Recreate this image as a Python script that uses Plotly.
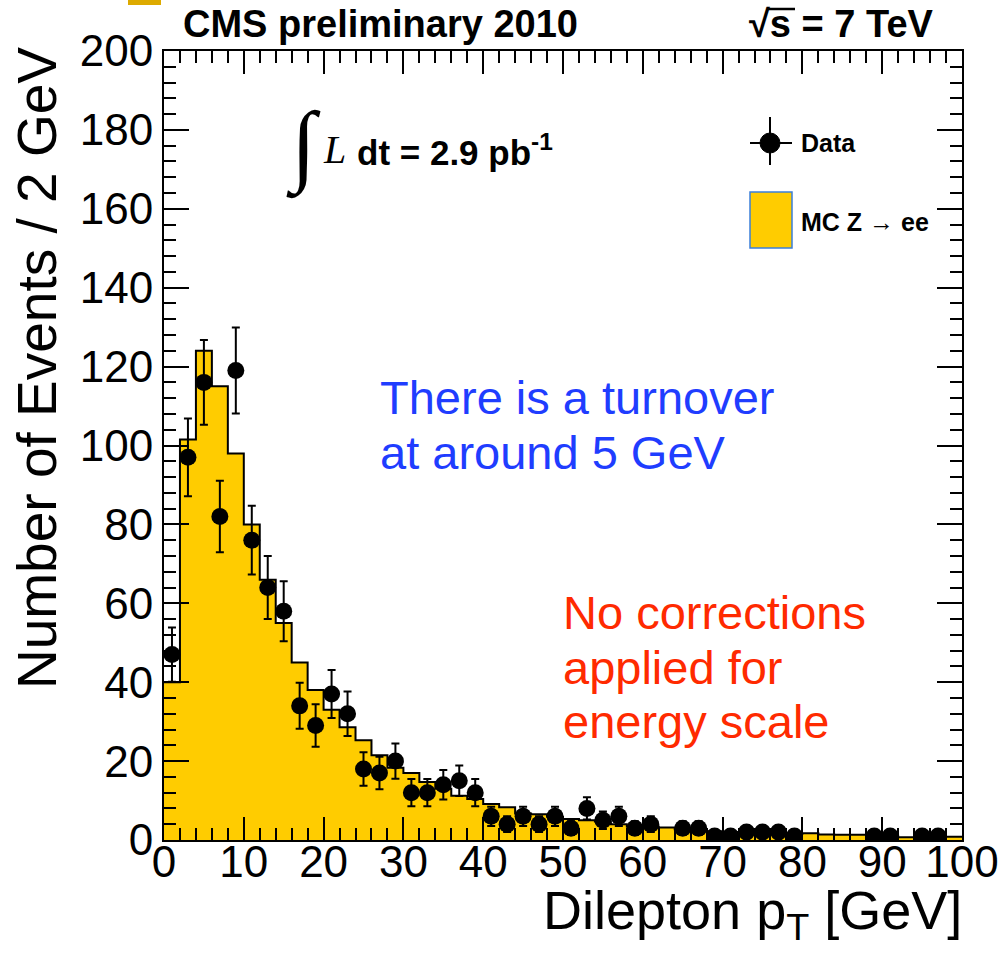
import numpy as np
import plotly.graph_objects as go

# ---- binning: dilepton pT in 2 GeV bins from 0 to 100 GeV ----
bin_edges = list(range(0, 102, 2))

# MC Z -> ee expectation per bin
mc_counts = [40, 101.5, 124, 115, 98, 80, 66, 55, 45, 38,
             33, 28.6, 25.3, 21.5, 18.3, 17, 14.7, 13, 11.2, 10.4,
             9.1, 8.3, 6.7, 6.5, 5.9, 5.3, 5.0, 4.7, 4.0, 3.4,
             3.4, 3.2, 2.7, 2.5, 2.2, 2.0, 1.9, 1.8, 1.7, 1.6,
             1.7, 1.4, 1.3, 1.3, 1.2, 1.1, 0.7, 0.7, 0.6, 0.8]

# observed events per bin
data_counts = [47, 97, 116, 82, 119, 76, 64, 58, 34, 29,
               37, 32, 18, 17, 20, 12, 12, 14, 15, 12,
               6, 4, 6, 4, 6, 3, 8, 5, 6, 3,
               4, 0, 3, 3, 1, 1, 2, 2, 2, 1,
               0, 0, 0, 0, 1, 1, 0, 1, 1, 0]

x_tick_vals = [0, 10, 20, 30, 40, 50, 60, 70, 80, 90, 100]
y_tick_vals = [0, 20, 40, 60, 80, 100, 120, 140, 160, 180, 200]

# ---- page geometry (pixels) ----
W, H = 1002, 961
ML, MR, MT, MB = 164, 40, 51, 121
PW, PH = W - ML - MR, H - MT - MB


def px(xp):
    return (xp - ML) / PW


def py(yp):
    return (H - MB - yp) / PH


FONT = "Liberation Sans"
YELLOW = "#FFCC00"

edges = np.array(bin_edges, dtype=float)
centers = 0.5 * (edges[:-1] + edges[1:])
mc = np.array(mc_counts, dtype=float)
obs = np.array(data_counts, dtype=float)
nz = obs > 0

fig = go.Figure()

# MC histogram drawn as a filled step outline
fig.add_trace(go.Scatter(
    x=edges, y=np.append(mc, mc[-1]),
    mode="lines",
    line=dict(shape="hv", color="black", width=2),
    fill="tozeroy", fillcolor=YELLOW,
    hoverinfo="skip", showlegend=False,
))

# data points with Poisson errors
fig.add_trace(go.Scatter(
    x=centers[nz], y=obs[nz],
    mode="markers",
    marker=dict(color="black", size=17),
    error_y=dict(type="data", array=np.sqrt(obs[nz]), color="black",
                 thickness=2, width=4),
    showlegend=False,
))

axis_common = dict(
    showline=True, linecolor="black", linewidth=2, mirror="allticks",
    ticks="inside", tickcolor="black", tickwidth=2,
    showgrid=False, zeroline=False, automargin=False,
    tickfont=dict(family=FONT, size=44, color="black"),
)

fig.update_xaxes(
    range=[0, 100], tickvals=x_tick_vals, ticklen=23,
    ticklabelstandoff=-18,
    minor=dict(ticks="inside", dtick=2, ticklen=12, tickwidth=2,
               tickcolor="black", showgrid=False),
    **axis_common,
)
fig.update_yaxes(
    range=[0, 200], tickvals=y_tick_vals, ticklen=25,
    minor=dict(ticks="inside", dtick=4, ticklen=12, tickwidth=2,
               tickcolor="black", showgrid=False),
    **axis_common,
)


def note(text, x, y, size, xanchor="center", yanchor="middle", color="black",
         family=FONT, angle=0, align="left"):
    return dict(text=text, x=px(x), y=py(y), xref="paper", yref="paper",
                xanchor=xanchor, yanchor=yanchor, showarrow=False,
                textangle=angle, align=align,
                font=dict(family=family, size=size, color=color))


BLUE = "#1f3dff"
RED = "#ff2a00"

annotations = [
    note("Number of Events / 2 GeV", 37, 368, 55, angle=-90),
    note("Dilepton p<sub>T</sub> [GeV]", 964, 878, 54, xanchor="right", yanchor="top"),
    note("<b>CMS preliminary 2010</b>", 380, 24, 38),
    note("<b>√s = 7 TeV</b>", 841, 24, 38),
    note("∫", 303, 146, 90, family="Liberation Serif"),
    note("<i>L</i>", 334, 150, 40, family="Liberation Serif"),
    note("<b>dt = 2.9 pb<sup>-1</sup></b>", 355, 150, 35, xanchor="left"),
    note("<b>Data</b>", 799, 143, 25, xanchor="left"),
    note("<b>MC Z → ee</b>", 799, 222, 25, xanchor="left"),
    note("There is a turnover", 378, 397, 47, xanchor="left", color=BLUE),
    note("at around 5 GeV", 378, 452, 47, xanchor="left", color=BLUE),
    note("No corrections", 561, 612, 47, xanchor="left", color=RED),
    note("applied for", 561, 667, 47, xanchor="left", color=RED),
    note("energy scale", 561, 721, 47, xanchor="left", color=RED),
]


def pline(x0, y0, x1, y1, width=2, color="black"):
    return dict(type="line", xref="paper", yref="paper",
                x0=px(x0), y0=py(y0), x1=px(x1), y1=py(y1),
                line=dict(color=color, width=width))


shapes = [
    # legend: data marker with error cross
    pline(750, 143, 792, 143),
    pline(770, 117, 770, 165),
    dict(type="circle", xref="paper", yref="paper",
         x0=px(760), y0=py(133), x1=px(780), y1=py(153),
         fillcolor="black", line=dict(color="black", width=1)),
    # legend: MC fill box
    dict(type="rect", xref="paper", yref="paper",
         x0=px(750), y0=py(192), x1=px(792), y1=py(248),
         fillcolor=YELLOW, line=dict(color="#3b7fd9", width=1.5)),
    # small gold box at the page corner
    dict(type="rect", xref="paper", yref="paper",
         x0=px(128), y0=py(0), x1=px(161), y1=py(5),
         fillcolor="#DDAA00", line=dict(width=0)),
    # overbar of the square root
    pline(768, 9, 795, 9, width=2.5),
]

fig.update_layout(
    width=W, height=H,
    margin=dict(l=ML, r=MR, t=MT, b=MB, pad=0, autoexpand=False),
    paper_bgcolor="white", plot_bgcolor="white",
    showlegend=False,
    annotations=annotations,
    shapes=shapes,
)

fig.write_html("out.html")
